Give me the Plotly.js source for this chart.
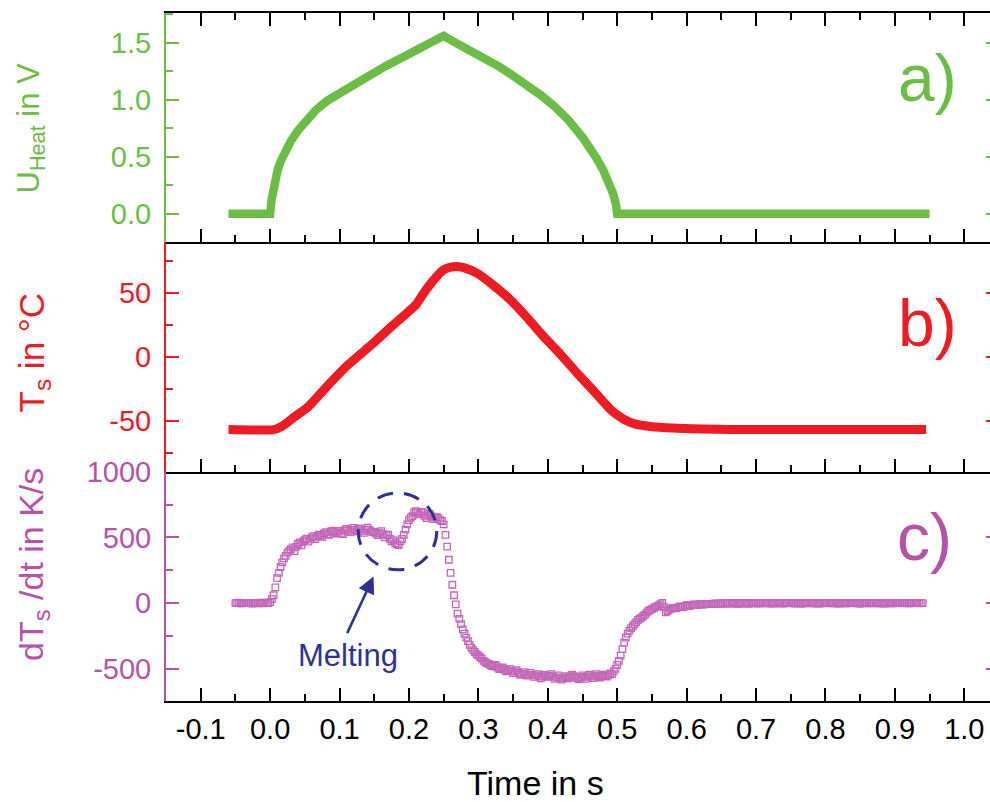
<!DOCTYPE html>
<html><head><meta charset="utf-8">
<script src="https://cdn.plot.ly/plotly-3.0.1.min.js"></script>
<style>html,body{margin:0;padding:0;overflow:hidden;background:#fff}#chart{width:1000px;height:802px}</style>
</head><body><div id="chart"></div>
<script>
// ---- data ----
const uTime = [-0.06, 0.0, 0.002, 0.004, 0.007, 0.011, 0.016, 0.022, 0.03, 0.04, 0.052, 0.066, 0.082, 0.10, 0.12, 0.14, 0.165, 0.19, 0.22, 0.25,
  0.27, 0.29, 0.31, 0.33, 0.35, 0.37, 0.39, 0.41, 0.43, 0.45, 0.46, 0.47, 0.48, 0.488, 0.494, 0.498, 0.5, 0.95];
const uHeat = [0, 0, 0.12, 0.21, 0.30, 0.39, 0.47, 0.55, 0.64, 0.73, 0.82, 0.91, 0.99, 1.06, 1.13, 1.20, 1.29, 1.37, 1.46, 1.56,
  1.49, 1.43, 1.36, 1.29, 1.21, 1.13, 1.04, 0.94, 0.82, 0.67, 0.59, 0.49, 0.38, 0.28, 0.18, 0.09, 0, 0];

const tsTime = [-0.06, 0.005, 0.015, 0.024, 0.035, 0.053, 0.082, 0.11, 0.149, 0.175, 0.197, 0.21, 0.221, 0.235, 0.25, 0.26, 0.269, 0.28, 0.298, 0.32, 0.346, 0.37, 0.394, 0.42, 0.442, 0.465, 0.49, 0.50, 0.51, 0.525, 0.548, 0.58, 0.62, 0.70, 0.945];
const tsVal = [-57, -57, -55, -51.7, -47, -40, -23, -7.3, 11, 24, 34.5, 41, 50, 60, 68.4, 70.5, 71, 70, 65.8, 57, 44.9, 31, 16.1, 1, -12.5, -26, -41, -45.5, -49, -52.5, -54.5, -55.8, -56.5, -57, -57];

const dTime = [
-0.05,-0.0475,-0.045,-0.0425,-0.04,-0.0375,-0.035,-0.0325,-0.03,-0.0275,-0.025,-0.0225,-0.02,-0.0175,-0.015,-0.0125,-0.01,-0.0075,-0.005,-0.0025,
0,0.0025,0.005,0.0075,0.01,0.0125,0.015,0.0175,0.02,0.0225,0.025,0.0275,0.03,0.0325,0.035,0.0375,0.04,0.0425,0.045,0.0475,
0.05,0.0525,0.055,0.0575,0.06,0.0625,0.065,0.0675,0.07,0.0725,0.075,0.0775,0.08,0.0825,0.085,0.0875,0.09,0.0925,0.095,0.0975,
0.1,0.1025,0.105,0.1075,0.11,0.1125,0.115,0.1175,0.12,0.1225,0.125,0.1275,0.13,0.1325,0.135,0.1375,0.14,0.1425,0.145,0.1475,
0.15,0.1525,0.155,0.1575,0.16,0.1625,0.165,0.1675,0.17,0.1725,0.175,0.1775,0.18,0.1825,0.185,0.1875,0.19,0.1925,0.195,0.1975,
0.2,0.2025,0.205,0.2075,0.21,0.2125,0.215,0.2175,0.22,0.2225,0.225,0.2275,0.23,0.2325,0.235,0.2375,0.24,0.2425,0.245,0.2475,
0.25,0.2525,0.255,0.2575,0.26,0.2625,0.265,0.2675,0.27,0.2725,0.275,0.2775,0.28,0.2825,0.285,0.2875,0.29,0.2925,0.295,0.2975,
0.3,0.3025,0.305,0.3075,0.31,0.3125,0.315,0.3175,0.32,0.3225,0.325,0.3275,0.33,0.3325,0.335,0.3375,0.34,0.3425,0.345,0.3475,
0.35,0.3525,0.355,0.3575,0.36,0.3625,0.365,0.3675,0.37,0.3725,0.375,0.3775,0.38,0.3825,0.385,0.3875,0.39,0.3925,0.395,0.3975,
0.4,0.4025,0.405,0.4075,0.41,0.4125,0.415,0.4175,0.42,0.4225,0.425,0.4275,0.43,0.4325,0.435,0.4375,0.44,0.4425,0.445,0.4475,
0.45,0.4525,0.455,0.4575,0.46,0.4625,0.465,0.4675,0.47,0.4725,0.475,0.4775,0.48,0.4825,0.485,0.4875,0.49,0.4925,0.495,0.4975,
0.5,0.5025,0.505,0.5075,0.51,0.5125,0.515,0.5175,0.52,0.5225,0.525,0.5275,0.53,0.5325,0.535,0.5375,0.54,0.5425,0.545,0.5475,
0.55,0.5525,0.555,0.5575,0.56,0.5625,0.565,0.5675,0.57,0.5725,0.575,0.5775,0.58,0.5825,0.585,0.5875,0.59,0.5925,0.595,0.5975,
0.6,0.6025,0.605,0.6075,0.61,0.6125,0.615,0.6175,0.62,0.6225,0.625,0.6275,0.63,0.6325,0.635,0.6375,0.64,0.6425,0.645,0.6475,
0.65,0.6525,0.655,0.6575,0.66,0.6625,0.665,0.6675,0.67,0.6725,0.675,0.6775,0.68,0.6825,0.685,0.6875,0.69,0.6925,0.695,0.6975,
0.7,0.7025,0.705,0.7075,0.71,0.7125,0.715,0.7175,0.72,0.7225,0.725,0.7275,0.73,0.7325,0.735,0.7375,0.74,0.7425,0.745,0.7475,
0.75,0.7525,0.755,0.7575,0.76,0.7625,0.765,0.7675,0.77,0.7725,0.775,0.7775,0.78,0.7825,0.785,0.7875,0.79,0.7925,0.795,0.7975,
0.8,0.8025,0.805,0.8075,0.81,0.8125,0.815,0.8175,0.82,0.8225,0.825,0.8275,0.83,0.8325,0.835,0.8375,0.84,0.8425,0.845,0.8475,
0.85,0.8525,0.855,0.8575,0.86,0.8625,0.865,0.8675,0.87,0.8725,0.875,0.8775,0.88,0.8825,0.885,0.8875,0.89,0.8925,0.895,0.8975,
0.9,0.9025,0.905,0.9075,0.91,0.9125,0.915,0.9175,0.92,0.9225,0.925,0.9275,0.93,0.9325,0.935,0.9375,0.94];
const dTdt = [
0,2,3,-1,-2,1,2,0,0,-2,-3,1,2,-1,1,3,-2,0,3,1,
8,30,60,120,190,230,275,310,340,360,385,400,410,425,395,430,450,462,440,470,
480,490,468,485,500,510,488,505,522,515,505,530,540,525,520,545,552,538,530,548,
548,535,525,555,565,550,540,560,572,555,545,568,562,548,535,560,575,560,548,540,
542,530,518,535,548,525,500,515,522,490,470,480,455,448,442,470,488,520,560,600,
632,650,662,690,700,688,675,695,690,665,648,670,680,660,640,650,655,645,630,625,
600,520,430,330,230,140,60,-10,-80,-120,-160,-200,-232,-262,-290,-318,-340,-358,-372,-388,
-400,-412,-422,-440,-450,-458,-462,-474,-482,-476,-470,-490,-502,-496,-490,-508,-520,-512,-500,-518,
-532,-520,-510,-530,-545,-536,-525,-540,-552,-545,-530,-548,-562,-550,-540,-558,-572,-560,-545,-555,
-562,-552,-540,-560,-576,-565,-550,-570,-582,-570,-555,-565,-572,-560,-545,-556,-562,-572,-580,-566,
-550,-562,-576,-560,-545,-558,-570,-556,-540,-552,-566,-556,-545,-555,-560,-548,-535,-540,-520,-500,
-470,-440,-400,-350,-300,-262,-232,-210,-190,-175,-160,-145,-128,-118,-110,-98,-88,-72,-60,-52,
-45,-38,-30,-24,-18,-8,2,-30,-70,-60,-50,-42,-36,-38,-40,-32,-25,-28,-30,-22,
-15,-18,-20,-14,-10,-12,-15,-11,-8,-10,-12,-8,-5,-7,-8,-5,-3,-4,-6,-3,
-2,-3,-4,-1,1,-1,-3,-2,0,-3,-5,-1,2,0,-2,-3,-4,-1,1,0,
-1,-2,-3,0,2,0,-2,-1,0,-2,-4,-1,1,0,-1,-2,-3,0,2,1,
0,-1,-2,-1,1,-1,-3,-2,-1,1,2,0,-2,-1,0,-2,-3,-1,1,0,
-1,1,2,0,-2,-1,0,-2,-3,-1,1,0,-2,-1,0,1,2,0,-1,-2,
-3,-1,1,0,0,-1,-2,0,2,1,-1,-1,0,-2,-3,-1,1,0,-2,-1,
0,1,2,1,-1,0,1,0,-2,-1,0,1,1,0,-1,0,0];

const xTickVals = [-0.1, 0.0, 0.1, 0.2, 0.3, 0.4, 0.5, 0.6, 0.7, 0.8, 0.9, 1.0];
const xTickText = ['-0.1','0.0','0.1','0.2','0.3','0.4','0.5','0.6','0.7','0.8','0.9','1.0'];
const uTickVals = [0, 0.5, 1.0, 1.5];
const uTickText = ['0.0','0.5','1.0','1.5'];
const tTickVals = [-50, 0, 50];
const tTickText = ['-50','0','50'];
const dTickVals = [-500, 0, 500, 1000];
const dTickText = ['-500','0','500','1000'];

// ---- styling ----
const FONT = 'Liberation Sans, Arial, sans-serif';
const GREEN = '#6cbd45', RED = '#ed1c24', PURPLE = '#b553a4', MARK = '#c465b9', NAVY = '#2e3192';

function xAxis(anchor, showLabels, mirror) {
  return {
    anchor: anchor, domain: [0, 1], range: [-0.15, 1.05],
    tickmode: 'array', tickvals: xTickVals, ticktext: xTickText,
    ticks: 'inside', ticklen: 13, tickwidth: 2, tickcolor: '#000',
    showline: true, linecolor: '#000', linewidth: 2, mirror: mirror,
    showgrid: false, zeroline: false, showticklabels: showLabels,
    tickfont: {family: FONT, size: 29, color: '#000'}, ticklabelstandoff: 1,
    minor: {ticks: 'inside', ticklen: 7, tickwidth: 2, tickcolor: '#000', tickmode: 'linear', tick0: 0, dtick: 0.05, showgrid: false}
  };
}
function yAxis(anchor, domain, range, vals, text, minorStep, color) {
  return {
    anchor: anchor, domain: domain, range: range,
    tickmode: 'array', tickvals: vals, ticktext: text,
    ticks: 'inside', ticklen: 13, tickwidth: 2, tickcolor: color,
    showline: true, linecolor: color, linewidth: 2, mirror: 'ticks',
    showgrid: false, zeroline: false,
    tickfont: {family: FONT, size: 29, color: color}, ticklabelstandoff: 7,
    minor: {ticks: 'inside', ticklen: 7, tickwidth: 2, tickcolor: color, tickmode: 'linear', tick0: 0, dtick: minorStep, showgrid: false}
  };
}

const traces = [
  {x: uTime, y: uHeat, xaxis: 'x', yaxis: 'y', type: 'scatter', mode: 'lines',
   line: {color: GREEN, width: 8.5}, hoverinfo: 'skip'},
  {x: tsTime, y: tsVal, xaxis: 'x2', yaxis: 'y2', type: 'scatter', mode: 'lines',
   line: {color: RED, width: 9, shape: 'spline', smoothing: 0.6}, hoverinfo: 'skip'},
  {x: dTime, y: dTdt, xaxis: 'x3', yaxis: 'y3', type: 'scatter', mode: 'markers',
   marker: {symbol: 'square-open', size: 6.5, color: MARK, line: {color: MARK, width: 1.3}}, hoverinfo: 'skip'}
];

const px = p => (p - 166) / 833;          // paper-x of a label centre
const py = p => (701 - p) / 688;          // paper-y of a label centre

function label(x, y, text, size, color, angle) {
  return {xref: 'paper', yref: 'paper', x: px(x), y: py(y), xanchor: 'center', yanchor: 'middle',
    textangle: angle, showarrow: false, text: text, font: {family: FONT, size: size, color: color}};
}

const layout = {
  width: 1000, height: 802,
  margin: {l: 166, r: 1, t: 13, b: 101},
  paper_bgcolor: '#fff', plot_bgcolor: 'rgba(0,0,0,0)',
  showlegend: false,
  font: {family: FONT},
  xaxis: xAxis('y', false, 'ticks'),
  xaxis2: xAxis('y2', false, false),
  xaxis3: xAxis('y3', true, false),
  yaxis: yAxis('x', [2/3, 1], [-0.25, 1.76], uTickVals, uTickText, 0.25, GREEN),
  yaxis2: yAxis('x2', [1/3, 2/3], [-90, 90], tTickVals, tTickText, 25, RED),
  yaxis3: yAxis('x3', [0, 1/3], [-745, 1000.5], dTickVals, dTickText, 250, PURPLE),
  shapes: [
    {type: 'circle', xref: 'x3', yref: 'y3', x0: 0.127, x1: 0.240, y0: 254, y1: 838,
     line: {color: NAVY, width: 3, dash: '16px,11px'}}
  ],
  annotations: [
    label(30, 128.5, 'U<sub>Heat</sub> in V', 31, GREEN, -90),
    label(33, 352.5, 'T<sub>s</sub> in °C', 35, RED, -90),
    label(33, 565, 'dT<sub>s</sub> /dt in K/s', 34, PURPLE, -90),
    label(535.8, 783, 'Time in s', 34, '#000', 0),
    {xref: 'x', yref: 'y', x: 0.9467, y: 1.186, showarrow: false, xanchor: 'center', yanchor: 'middle',
     text: 'a)', font: {family: FONT, size: 66, color: GREEN}},
    {xref: 'x2', yref: 'y2', x: 0.9467, y: 26.9, showarrow: false, xanchor: 'center', yanchor: 'middle',
     text: 'b)', font: {family: FONT, size: 66, color: RED}},
    {xref: 'x3', yref: 'y3', x: 0.943, y: 505, showarrow: false, xanchor: 'center', yanchor: 'middle',
     text: 'c)', font: {family: FONT, size: 66, color: PURPLE}},
    {xref: 'x3', yref: 'y3', x: 0.1117, y: -400, showarrow: false, xanchor: 'center', yanchor: 'middle',
     text: 'Melting', font: {family: FONT, size: 31, color: NAVY}},
    {xref: 'x3', yref: 'y3', axref: 'x3', ayref: 'y3', x: 0.149, y: 203, ax: 0.110, ay: -240,
     text: '', showarrow: true, arrowhead: 2, arrowsize: 1.3, arrowwidth: 2.6, arrowcolor: NAVY, standoff: 0, startstandoff: 0}
  ]
};

Plotly.newPlot('chart', traces, layout, {staticPlot: true, displayModeBar: false});
</script>
</body></html>
